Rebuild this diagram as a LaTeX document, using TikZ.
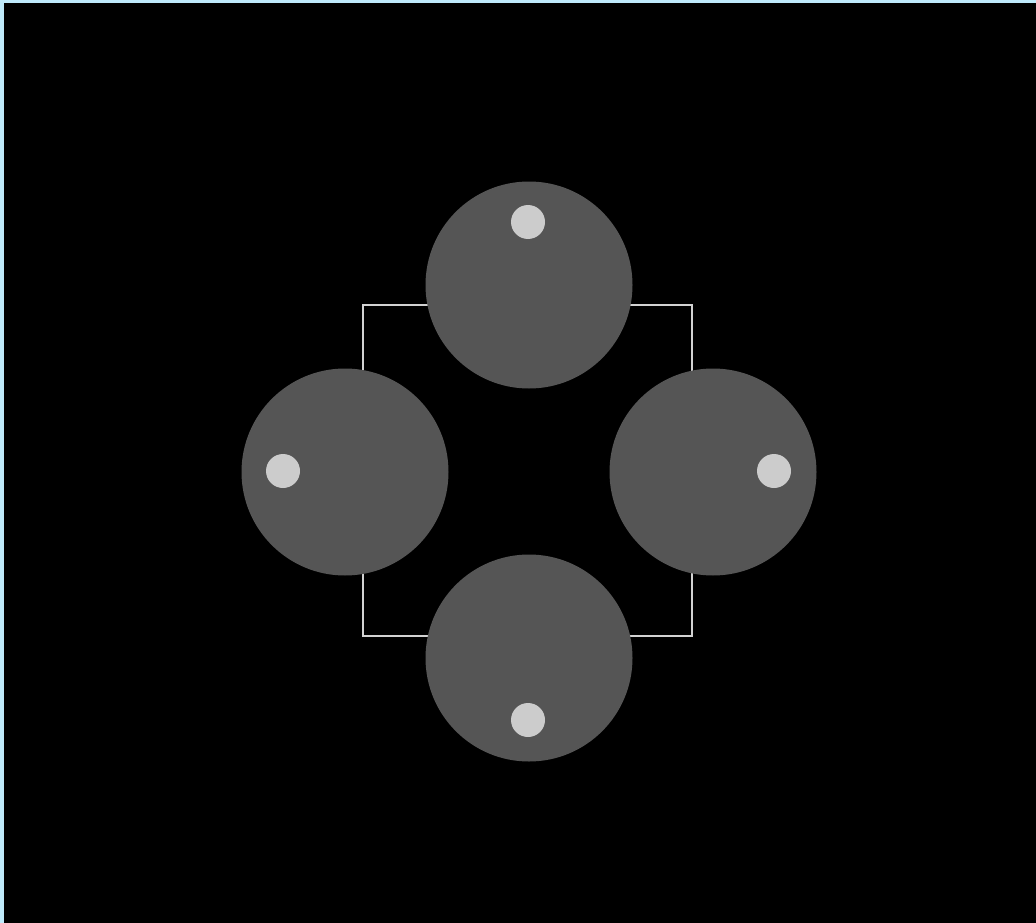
\documentclass[tikz,border=0pt]{standalone}
\usetikzlibrary{positioning}

\begin{document}
\begin{tikzpicture}[
    x=1pt, y=-1pt,
    disc/.style={circle, fill=gray!67!black, minimum size=207pt, inner sep=0pt},
    knob/.style={circle, fill=gray!40, minimum size=34pt, inner sep=0pt},
    frame/.style={draw=gray!35, line width=1.5pt}
]
\useasboundingbox (0,0) rectangle (1036,923);
\fill[black] (0,0) rectangle (1036,923);
\fill[cyan!25] (0,0) rectangle (1036,3);
\fill[cyan!25] (0,0) rectangle (4,923);
\draw[frame] (363,305) rectangle (692,636);
\node[disc] (n) at (529,285) {};
\node[disc] (s) at (529,658) {};
\node[disc] (w) at (345,472) {};
\node[disc] (e) at (713,472) {};
\node[knob] (kn) at (528,222) {};
\node[knob] (ks) at (528,720) {};
\node[knob] (kw) at (283,471) {};
\node[knob] (ke) at (774,471) {};
\end{tikzpicture}
\end{document}
